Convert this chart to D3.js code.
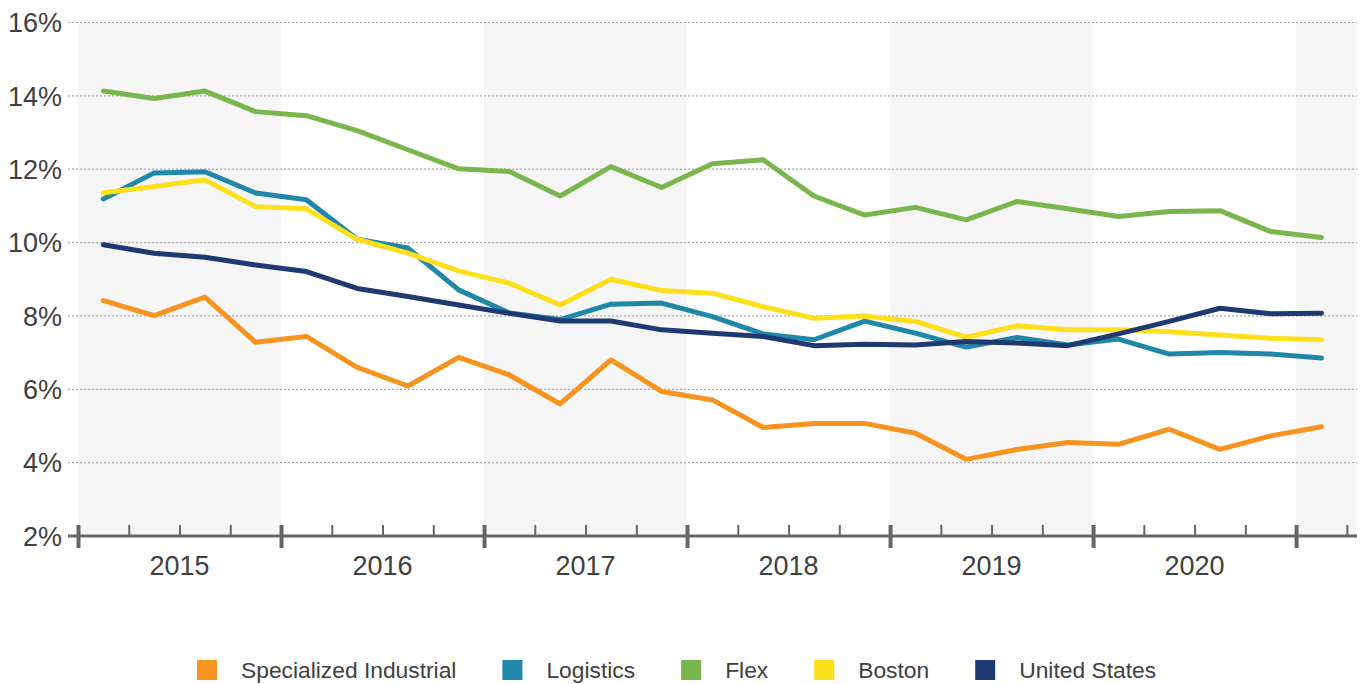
<!DOCTYPE html>
<html>
<head>
<meta charset="utf-8">
<script src="https://cdn.jsdelivr.net/npm/d3@7"></script>
<style>
  html, body { margin: 0; padding: 0; background: #fff; }
  svg { display: block; font-family: "Liberation Sans", Arial, sans-serif; }
</style>
</head>
<body>
<svg id="chart" width="1367" height="684"></svg>
<script>
// ---------- DATA ----------
const quarters = ["2015 Q1","2015 Q2","2015 Q3","2015 Q4",
                  "2016 Q1","2016 Q2","2016 Q3","2016 Q4",
                  "2017 Q1","2017 Q2","2017 Q3","2017 Q4",
                  "2018 Q1","2018 Q2","2018 Q3","2018 Q4",
                  "2019 Q1","2019 Q2","2019 Q3","2019 Q4",
                  "2020 Q1","2020 Q2","2020 Q3","2020 Q4",
                  "2021 Q1"];
const years = ["2015","2016","2017","2018","2019","2020"];
const yTicks = [2, 4, 6, 8, 10, 12, 14, 16];

const specializedIndustrial = [8.42, 8.01, 8.51, 7.28, 7.44, 6.60, 6.09, 6.87, 6.39, 5.60, 6.80, 5.94, 5.71, 4.96, 5.07, 5.07, 4.80, 4.09, 4.36, 4.55, 4.50, 4.91, 4.36, 4.73, 4.98];
const logistics = [11.19, 11.90, 11.93, 11.35, 11.17, 10.09, 9.85, 8.71, 8.08, 7.90, 8.32, 8.35, 7.98, 7.51, 7.35, 7.86, 7.53, 7.15, 7.41, 7.21, 7.37, 6.96, 7.00, 6.96, 6.85];
const flex = [14.13, 13.93, 14.13, 13.57, 13.46, 13.05, 12.53, 12.01, 11.94, 11.27, 12.07, 11.50, 12.15, 12.26, 11.27, 10.75, 10.96, 10.62, 11.12, 10.92, 10.71, 10.85, 10.87, 10.30, 10.14];
const boston = [11.36, 11.53, 11.71, 10.98, 10.92, 10.09, 9.71, 9.23, 8.89, 8.30, 9.00, 8.69, 8.62, 8.25, 7.94, 8.00, 7.85, 7.42, 7.73, 7.62, 7.62, 7.57, 7.48, 7.39, 7.35];
const unitedStates = [9.94, 9.71, 9.60, 9.39, 9.21, 8.75, 8.53, 8.30, 8.07, 7.86, 7.86, 7.62, 7.53, 7.44, 7.19, 7.23, 7.21, 7.30, 7.26, 7.19, 7.51, 7.85, 8.21, 8.06, 8.07];

const seriesNames = ["Specialized Industrial", "Logistics", "Flex", "Boston", "United States"];
const seriesColors = ["#F7931E", "#1F88A9", "#79B74E", "#FEDF1C", "#1E3A70"];
const seriesValues = [specializedIndustrial, logistics, flex, boston, unitedStates];

// ---------- LAYOUT ----------
const svg = d3.select("#chart");
const plotLeft = 78, plotRight = 1357, plotTop = 22.5, plotBottom = 536;
const axisEndQ = 25.2; // quarter units covered by the axis

const x = d3.scaleLinear().domain([0, axisEndQ]).range([plotLeft, plotRight]);
const y = d3.scaleLinear().domain([2, 16]).range([plotBottom, plotTop]);
const xc = i => x(i + 0.5);

const textColor = "#404040";

// alternating year bands (2015, 2017, 2019, 2021)
const bandStarts = [0, 8, 16, 24];
svg.append("g").selectAll("rect").data(bandStarts).join("rect")
  .attr("x", d => x(d))
  .attr("width", d => x(Math.min(d + 4, axisEndQ)) - x(d))
  .attr("y", y(16))
  .attr("height", y(2) - y(16))
  .attr("fill", "#f6f6f6");

// gridlines
svg.append("g").selectAll("line").data(yTicks.filter(d => d > 2)).join("line")
  .attr("x1", plotLeft - 10).attr("x2", plotRight)
  .attr("y1", d => y(d)).attr("y2", d => y(d))
  .attr("stroke", "#a8a8a8").attr("stroke-width", 1.2)
  .attr("stroke-dasharray", "2,2");

// y labels
svg.append("g").selectAll("text").data(yTicks).join("text")
  .attr("x", 62).attr("y", d => y(d))
  .attr("dy", "0.36em")
  .attr("text-anchor", "end")
  .attr("font-size", 27)
  .attr("fill", textColor)
  .text(d => d + "%");

// x axis
const axisColor = "#666666";
svg.append("line")
  .attr("x1", plotLeft - 10).attr("x2", plotRight)
  .attr("y1", plotBottom).attr("y2", plotBottom)
  .attr("stroke", axisColor).attr("stroke-width", 3);

const minorTicks = d3.range(1, 26).filter(q => q % 4 !== 0 && q < axisEndQ);
const majorTicks = d3.range(0, 25, 4);

const minorAxis = d3.axisBottom(x).tickValues(minorTicks).tickSize(-11).tickFormat("");
const gMinor = svg.append("g").attr("transform", `translate(0,${plotBottom})`).call(minorAxis);
gMinor.select(".domain").remove();
gMinor.selectAll(".tick line").attr("stroke", axisColor).attr("stroke-width", 2);

const majorAxis = d3.axisBottom(x).tickValues(majorTicks).tickSize(12).tickFormat("");
const gMajor = svg.append("g").attr("transform", `translate(0,${plotBottom})`).call(majorAxis);
gMajor.select(".domain").remove();
gMajor.selectAll(".tick line").attr("stroke", axisColor).attr("stroke-width", 4).attr("y1", -11);

// year labels
svg.append("g").selectAll("text").data(years).join("text")
  .attr("x", (d, i) => x(i * 4 + 2))
  .attr("y", 575)
  .attr("text-anchor", "middle")
  .attr("font-size", 27)
  .attr("fill", textColor)
  .text(d => d);

// lines
const line = d3.line().x((d, i) => xc(i)).y(d => y(d));
svg.append("g").selectAll("path").data(seriesValues).join("path")
  .attr("d", d => line(d))
  .attr("fill", "none")
  .attr("stroke", (d, i) => seriesColors[i])
  .attr("stroke-width", 5)
  .attr("stroke-linejoin", "round")
  .attr("stroke-linecap", "round");

// legend
const legend = svg.append("g");
let lx = 197;
seriesNames.forEach((name, i) => {
  legend.append("rect")
    .attr("x", lx).attr("y", 660)
    .attr("width", 20).attr("height", 20)
    .attr("fill", seriesColors[i]);
  const t = legend.append("text")
    .attr("x", lx + 44).attr("y", 678)
    .attr("font-size", 22.8)
    .attr("fill", textColor)
    .text(name);
  lx = lx + 44 + t.node().getComputedTextLength() + 46;
});
</script>
</body>
</html>
